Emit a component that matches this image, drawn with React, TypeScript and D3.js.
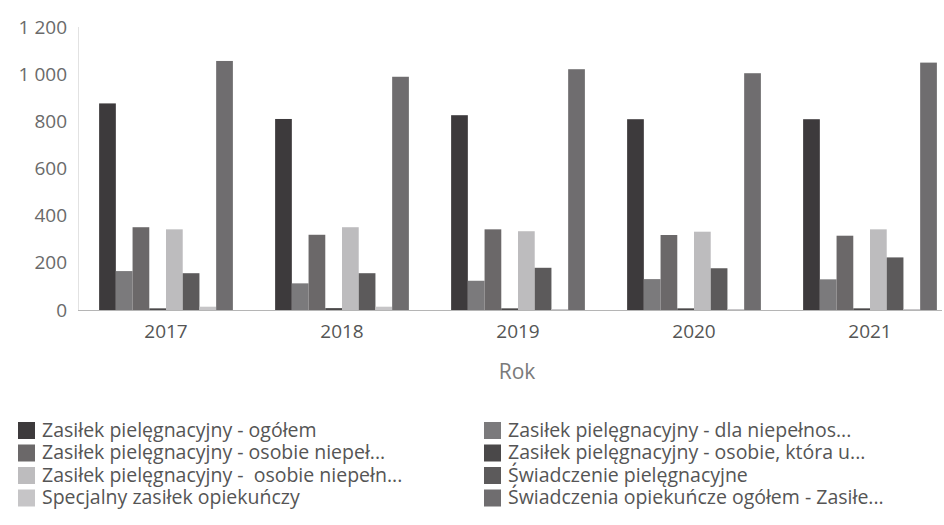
import React, { useEffect, useRef } from "react";
import * as d3 from "d3";

const years = ["2017", "2018", "2019", "2020", "2021"];

const seriesNames = [
  "Zasiłek pielęgnacyjny - ogółem",
  "Zasiłek pielęgnacyjny - dla niepełnos...",
  "Zasiłek pielęgnacyjny - osobie niepeł...",
  "Zasiłek pielęgnacyjny - osobie, która u...",
  "Zasiłek pielęgnacyjny -  osobie niepełn...",
  "Świadczenie pielęgnacyjne",
  "Specjalny zasiłek opiekuńczy",
  "Świadczenia opiekuńcze ogółem - Zasiłe...",
];

// one array per series, values per year 2017..2021
const ogolem = [876, 810, 826, 809, 809];
const dlaDziecka = [165, 113, 124, 131, 130];
const osobieNiepel = [351, 319, 342, 318, 315];
const osobie75 = [7, 8, 7, 7, 7];
const osobieNiepeln = [342, 351, 334, 332, 342];
const swiadczenie = [156, 156, 179, 177, 223];
const specjalny = [14, 14, 4, 4, 4];
const opiekuncze = [1056, 989, 1021, 1004, 1049];

const seriesValues = [
  ogolem,
  dlaDziecka,
  osobieNiepel,
  osobie75,
  osobieNiepeln,
  swiadczenie,
  specjalny,
  opiekuncze,
];

const colors = [
  "#3d3a3c",
  "#7b7a7c",
  "#6b6869",
  "#4a4849",
  "#bdbcbe",
  "#5c5a5b",
  "#c6c5c7",
  "#6f6d6f",
];

const yTicks = [0, 200, 400, 600, 800, 1000, 1200];

const W = 944;
const H = 525;
const FONT = "'Open Sans', 'Noto Sans', sans-serif";

export default function App() {
  const ref = useRef<SVGSVGElement>(null);

  useEffect(() => {
    const svg = d3.select(ref.current);
    svg.selectAll("*").remove();

    const x0 = d3
      .scaleBand<string>()
      .domain(years)
      .range([78, 958])
      .paddingInner(0.24)
      .paddingOuter(0.12);
    const x1 = d3
      .scaleBand<number>()
      .domain(d3.range(seriesNames.length))
      .range([0, x0.bandwidth()]);
    const y = d3.scaleLinear().domain([0, 1200]).range([310, 27]);

    const fmt = (v: number) => d3.format(",")(v).replace(/,/g, " ");

    // y axis labels
    svg
      .append("g")
      .selectAll("text")
      .data(yTicks)
      .enter()
      .append("text")
      .attr("x", 67)
      .attr("y", (d) => y(d))
      .attr("dy", "0.35em")
      .attr("text-anchor", "end")
      .style("font-family", FONT)
      .style("font-size", "19px")
      .style("fill", "#6a6a6a")
      .text(fmt);

    svg
      .append("line")
      .attr("x1", 78.5)
      .attr("x2", 78.5)
      .attr("y1", y(1200))
      .attr("y2", y(0))
      .style("stroke", "#e2e2e2");

    // bars
    const groups = svg
      .append("g")
      .selectAll("g")
      .data(years)
      .enter()
      .append("g")
      .attr("transform", (d) => `translate(${x0(d)},0)`);

    groups
      .selectAll("rect")
      .data((_, yi) => seriesValues.map((s, si) => ({ si, v: s[yi] })))
      .enter()
      .append("rect")
      .attr("x", (d) => x1(d.si)!)
      .attr("width", x1.bandwidth())
      .attr("y", (d) => y(d.v))
      .attr("height", (d) => y(0) - y(d.v))
      .style("fill", (d) => colors[d.si]);

    svg
      .append("line")
      .attr("x1", 78)
      .attr("x2", 942)
      .attr("y1", y(0) + 0.5)
      .attr("y2", y(0) + 0.5)
      .style("stroke", "#b5b5b5");

    // x labels
    svg
      .append("g")
      .selectAll("text")
      .data(years)
      .enter()
      .append("text")
      .attr("x", (d) => x0(d)! + x0.bandwidth() / 2)
      .attr("y", 331)
      .attr("dy", "0.35em")
      .attr("text-anchor", "middle")
      .style("font-family", FONT)
      .style("font-size", "19px")
      .style("fill", "#555")
      .text((d) => d);

    svg
      .append("text")
      .attr("x", 517)
      .attr("y", 372)
      .attr("dy", "0.35em")
      .attr("text-anchor", "middle")
      .style("font-family", FONT)
      .style("font-size", "21px")
      .style("fill", "#7a7a7a")
      .text("Rok");

    // legend, two columns, row-major
    const legend = svg
      .append("g")
      .selectAll("g")
      .data(seriesNames)
      .enter()
      .append("g")
      .attr(
        "transform",
        (_, i) => `translate(${i % 2 === 0 ? 18 : 484},${430 + Math.floor(i / 2) * 22.5})`
      );

    legend
      .append("rect")
      .attr("x", 0)
      .attr("y", -8)
      .attr("width", 17)
      .attr("height", 17)
      .style("fill", (_, i) => colors[i]);

    legend
      .append("text")
      .attr("x", 24)
      .attr("y", 0)
      .attr("dy", "0.35em")
      .style("font-family", FONT)
      .style("font-size", "19.5px")
      .style("fill", "#555")
      .style("white-space", "pre")
      .text((d) => d);
  }, []);

  return (
    <div style={{ position: "fixed", left: 0, top: 0, width: W, height: H, background: "#fff" }}>
      <svg ref={ref} width={W} height={H} style={{ display: "block" }} />
    </div>
  );
}
